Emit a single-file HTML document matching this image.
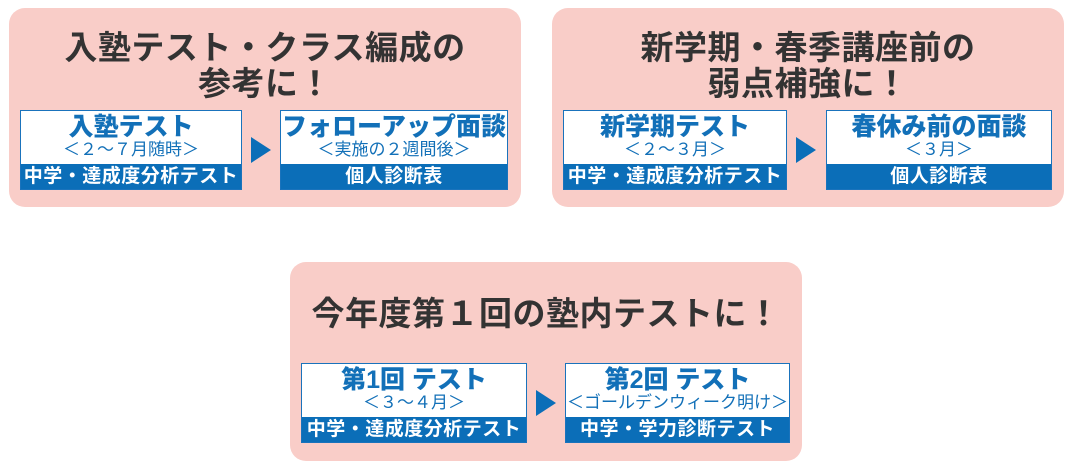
<!DOCTYPE html>
<html><head><meta charset="utf-8"><style>
body{margin:0;width:1072px;height:468px;background:#fff;position:relative;overflow:hidden;font-family:"Liberation Sans","Noto Sans CJK JP",sans-serif}
.p{position:absolute;background:#f9cdc8;border-radius:16px;width:512px;height:199px}
.t{position:absolute;left:0;width:100%;text-align:center;color:#333;font-size:33px;font-weight:bold;line-height:36px;letter-spacing:0.5px}
.b{position:absolute;width:222px;height:80px;border:1.5px solid #1a73bc;background:#fff;box-sizing:border-box}
.b .h{position:absolute;top:2px;width:100%;text-align:center;color:#1270b8;font-weight:900;font-size:25px;line-height:28px}
.b .s{position:absolute;top:29px;width:100%;text-align:center;color:#1270b8;font-size:17px;line-height:20px}
.b .f{position:absolute;bottom:0;left:0;width:100%;height:25px;background:#0b6eb8;color:#fff;text-align:center;font-weight:bold;font-size:19px;line-height:25px;letter-spacing:0.5px}
.a{position:absolute;width:0;height:0;border-top:13px solid transparent;border-bottom:13px solid transparent;border-left:20px solid #0b6eb8}
</style></head><body>
<div class="p" style="left:9px;top:8px">
 <div class="t" style="top:22px">入塾テスト・クラス編成の<br>参考に！</div>
 <div class="b" style="left:11px;top:102px"><div class="h">入塾テスト</div><div class="s">＜２～７月随時＞</div><div class="f">中学・達成度分析テスト</div></div>
 <div class="a" style="left:242px;top:129px"></div>
 <div class="b" style="left:271px;top:102px;width:228px"><div class="h">フォローアップ面談</div><div class="s">＜実施の２週間後＞</div><div class="f">個人診断表</div></div>
</div>
<div class="p" style="left:552px;top:8px">
 <div class="t" style="top:22px">新学期・春季講座前の<br>弱点補強に！</div>
 <div class="b" style="left:11px;top:102px;width:224px"><div class="h">新学期テスト</div><div class="s">＜２～３月＞</div><div class="f">中学・達成度分析テスト</div></div>
 <div class="a" style="left:244px;top:129px"></div>
 <div class="b" style="left:274px;top:102px;width:226px"><div class="h">春休み前の面談</div><div class="s">＜３月＞</div><div class="f">個人診断表</div></div>
</div>
<div class="p" style="left:290px;top:262px">
 <div class="t" style="top:34px">今年度第１回の塾内テストに！</div>
 <div class="b" style="left:11px;top:101px;width:226px"><div class="h">第1回 テスト</div><div class="s">＜３～４月＞</div><div class="f">中学・達成度分析テスト</div></div>
 <div class="a" style="left:246px;top:128px"></div>
 <div class="b" style="left:275px;top:101px;width:225px"><div class="h">第2回 テスト</div><div class="s">＜ゴールデンウィーク明け＞</div><div class="f">中学・学力診断テスト</div></div>
</div>
</body></html>
